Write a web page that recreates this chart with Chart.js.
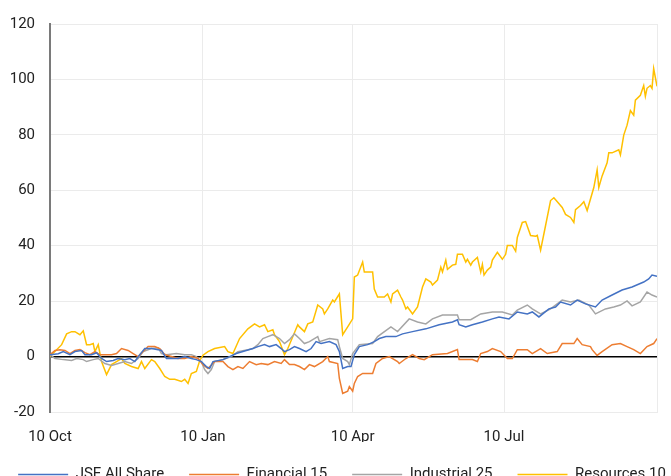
<!DOCTYPE html>
<html>
<head>
<meta charset="utf-8">
<script src="https://cdn.jsdelivr.net/npm/chart.js@4.4.1/dist/chart.umd.min.js"></script>
<style>
    html, body { margin: 0; padding: 0; background: #fff; overflow: hidden; width: 671px; height: 476px; }
    canvas { display: block; margin-left: -8px; }
</style>
</head>
<body>
<canvas id="returnsChart" width="700" height="492"></canvas>
<script>
// x values are days counted from 10 Oct
const tickDays = [0, 92, 182, 273];
const tickLabels = ['10 Oct', '10 Jan', '10 Apr', '10 Jul'];
const lastDay = 365;

const seriesNames = ['JSE All Share', 'Financial 15', 'Industrial 25', 'Resources 10'];
const seriesColors = ['#4472C4', '#ED7D31', '#A5A5A5', '#FFC000'];

const jseDays = [0, 5, 8, 12, 15, 19, 21, 25, 28, 31, 34, 38, 41, 45, 48, 51, 54, 57, 61, 65, 67, 70, 73, 77, 81, 85, 88, 91, 94, 96, 98, 104, 108, 112, 116, 122, 125, 129, 132, 136, 139, 141, 144, 147, 150, 154, 157, 160, 163, 168, 172, 174, 176, 179, 181, 183, 186, 191, 195, 198, 202, 208, 212, 218, 226, 234, 242, 245, 246, 250, 254, 260, 266, 270, 276, 281, 287, 290, 294, 300, 304, 307, 313, 317, 322, 328, 332, 338, 344, 350, 357, 360, 362, 365];
const jseVals = [0.7, 1.0, 1.8, 0.7, 1.8, 2.2, 0.7, 0.7, 1.4, -0.7, -1.8, -1.4, -0.7, -1.1, -0.7, -1.8, 0.7, 2.9, 2.9, 2.5, 2.2, -0.7, -0.7, -0.7, 0, -0.7, -1.1, -1.8, -3.6, -4.3, -1.8, -1.1, 0, 1.1, 1.8, 2.9, 3.6, 4.3, 3.6, 4.3, 2.9, 1.8, 2.5, 3.6, 2.9, 1.8, 2.9, 5.4, 4.7, 5.4, 4.3, 1.8, -4.3, -3.6, -3.6, 0.7, 3.6, 4.3, 5.4, 6.5, 7.2, 7.2, 8.2, 9.0, 10.0, 11.5, 12.5, 13.3, 11.5, 10.7, 11.5, 12.5, 13.6, 14.3, 13.6, 16.1, 15.4, 16.1, 14.3, 17.2, 17.9, 19.7, 18.6, 20.4, 19.0, 17.9, 20.4, 22.2, 24.0, 25.1, 26.9, 28.0, 29.4, 29.0];

const finDays = [0, 3, 6, 9, 12, 15, 18, 21, 24, 27, 30, 34, 37, 40, 43, 47, 50, 53, 56, 59, 63, 66, 69, 73, 77, 81, 85, 89, 92, 95, 99, 104, 107, 110, 113, 116, 120, 124, 127, 131, 135, 139, 141, 144, 147, 150, 153, 156, 159, 164, 167, 168, 173, 174, 176, 179, 180, 182, 183, 185, 188, 194, 196, 200, 204, 209, 210, 214, 218, 222, 225, 230, 239, 245, 246, 254, 257, 259, 263, 266, 271, 275, 278, 281, 287, 290, 295, 299, 305, 308, 315, 317, 320, 325, 326, 329, 332, 338, 343, 347, 351, 355, 359, 363, 365];
const finVals = [0.7, 2.2, 2.5, 2.2, 1.1, 2.2, 2.5, 1.4, 0.7, 1.8, 0.7, 0.7, 0.7, 1.1, 2.9, 2.2, 1.1, 0, 1.8, 3.6, 3.6, 2.9, 0.7, 0, -0.7, -0.7, 0, -0.7, -2.9, -4.3, -1.8, -1.8, -3.6, -4.7, -3.6, -4.3, -1.8, -2.9, -2.5, -2.9, -1.8, -2.5, -1.1, -2.9, -2.9, -3.6, -4.7, -2.9, -3.6, -1.8, 0, -1.8, -2.5, -7.9, -13.3, -12.5, -10.8, -12.5, -9.7, -7.2, -6.1, -6.1, -2.5, -0.7, 0, -1.8, -2.5, -0.7, 0.7, -0.7, -1.1, 0.7, 1.1, 2.5, -1.1, -1.1, -1.8, 1.1, 1.8, 2.9, 1.8, -0.7, -0.7, 2.5, 2.5, 1.1, 2.9, 1.1, 1.8, 4.7, 4.7, 6.5, 4.3, 3.6, 2.5, 0.4, 1.8, 4.3, 4.7, 3.6, 2.5, 1.1, 3.6, 4.7, 6.5];

const indDays = [0, 3, 8, 13, 16, 20, 22, 26, 29, 33, 37, 41, 45, 49, 53, 56, 61, 65, 67, 70, 76, 81, 85, 88, 91, 93, 95, 97, 99, 104, 109, 113, 119, 122, 125, 128, 131, 134, 138, 141, 144, 147, 150, 153, 156, 161, 162, 168, 173, 174, 176, 179, 180, 182, 186, 194, 197, 205, 209, 216, 221, 226, 230, 236, 245, 246, 253, 259, 266, 272, 278, 281, 287, 290, 295, 301, 308, 313, 318, 324, 328, 334, 339, 343, 347, 350, 355, 359, 362, 365];
const indVals = [0.7, -0.7, -1.1, -1.4, -0.7, -1.1, -1.8, -1.1, -0.7, -2.5, -3.2, -2.5, -1.8, -2.5, -0.7, 1.8, 2.9, 3.2, 1.1, 0.7, 1.1, 0.7, 0.7, 0, -1.8, -4.7, -6.1, -4.7, -1.8, -1.1, 0, 1.8, 2.5, 2.9, 4.3, 6.5, 7.2, 7.9, 6.5, 4.7, 6.1, 8.2, 6.5, 4.7, 5.4, 7.2, 5.4, 6.5, 6.1, 3.6, -0.7, -1.8, -2.9, 1.1, 4.3, 4.7, 7.2, 10.7, 9.0, 13.6, 12.5, 11.8, 13.6, 15.0, 15.0, 13.3, 13.3, 15.4, 16.1, 16.1, 15.0, 16.8, 18.6, 17.2, 15.4, 17.2, 20.4, 19.7, 20.4, 18.6, 15.4, 17.2, 17.9, 18.6, 20.1, 18.3, 19.7, 23.3, 22.2, 21.5];

const resDays = [0, 7, 10, 13, 15, 18, 20, 22, 24, 26, 27, 29, 31, 34, 37, 40, 43, 45, 49, 53, 55, 57, 61, 63, 66, 69, 72, 75, 79, 81, 83, 85, 88, 90, 92, 95, 99, 105, 107, 110, 114, 119, 123, 126, 129, 131, 134, 135, 138, 141, 143, 149, 150, 153, 155, 158, 161, 164, 165, 167, 170, 171, 174, 176, 179, 182, 183, 185, 188, 189, 194, 195, 197, 201, 203, 205, 206, 209, 211, 212, 214, 215, 218, 221, 224, 226, 229, 230, 233, 235, 236, 238, 239, 242, 244, 245, 248, 250, 251, 253, 254, 257, 259, 260, 261, 263, 265, 266, 269, 272, 274, 275, 278, 280, 281, 284, 286, 289, 292, 293, 295, 298, 301, 303, 308, 310, 313, 315, 316, 319, 321, 323, 327, 329, 330, 332, 335, 336, 338, 342, 343, 345, 347, 349, 351, 352, 355, 357, 358, 359, 361, 362, 363, 365];
const resVals = [0, 4.3, 8.2, 9.0, 9.0, 7.9, 9.3, 4.3, 4.3, 4.7, 1.8, 4.3, -1.8, -6.5, -2.9, -1.8, -0.7, -2.5, -3.6, -4.3, -1.8, -4.3, -1.1, -1.8, -4.3, -7.2, -8.2, -8.2, -9.0, -8.2, -9.7, -6.1, -5.4, -1.5, 0.5, 1.8, 2.9, 3.6, 1.8, 1.1, 6.5, 10.0, 11.8, 10.7, 11.5, 9.0, 9.7, 7.9, 5.4, 0.7, 2.9, 11.5, 10.7, 9.0, 11.8, 12.5, 18.6, 17.2, 15.4, 17.2, 20.4, 19.7, 22.6, 7.9, 10.7, 13.6, 28.7, 29.4, 34.1, 30.5, 30.5, 24.4, 21.5, 21.5, 22.6, 19.7, 22.6, 24.0, 21.5, 20.4, 17.2, 17.9, 15.4, 17.9, 25.1, 28.0, 26.9, 25.8, 27.6, 32.3, 30.5, 34.8, 31.5, 33.0, 33.3, 36.9, 36.9, 34.1, 35.1, 33.0, 34.1, 35.8, 30.5, 33.3, 29.4, 31.2, 32.3, 34.8, 37.6, 35.1, 36.9, 40.1, 40.1, 38.0, 43.0, 48.4, 48.7, 43.7, 43.4, 43.7, 38.4, 47.3, 56.3, 57.3, 53.8, 51.3, 50.2, 48.4, 53.0, 54.5, 55.9, 52.7, 61.0, 67.4, 61.0, 65.2, 69.9, 73.5, 73.5, 74.6, 72.8, 79.9, 83.5, 88.8, 87.1, 92.5, 94.3, 97.8, 93.9, 96.8, 97.8, 96.8, 103.9, 97.5];

const yTicks = [-20, 0, 20, 40, 60, 80, 100, 120];

function toPoints(days, vals) {
    return days.map((d, i) => ({ x: d, y: vals[i] }));
}

const allDays = [jseDays, finDays, indDays, resDays];
const allVals = [jseVals, finVals, indVals, resVals];

let _datasets = new Array();
for (let i = 0; i < seriesNames.length; i++) {
    _datasets.push({
        label: seriesNames[i],
        data: toPoints(allDays[i], allVals[i]),
        borderColor: seriesColors[i],
        backgroundColor: seriesColors[i],
        borderWidth: 1.5,
        pointRadius: 0,
        tension: 0
    });
}

Chart.defaults.font.family = 'Roboto';
Chart.defaults.font.size = 15;
Chart.defaults.color = '#222';

new Chart('returnsChart', {
    type: 'line',
    data: { datasets: _datasets },
    options: {
        responsive: false,
        animation: false,
        layout: { padding: { top: 20, right: 0, left: 0, bottom: 0 } },
        scales: {
            x: {
                type: 'linear',
                min: 0,
                max: lastDay,
                afterBuildTicks: (axis) => {
                    axis.ticks = tickDays.concat([lastDay]).map(v => ({ value: v }));
                },
                afterFit: (scale) => { scale.height = 30; },
                ticks: {
                    padding: 16,
                    maxRotation: 0,
                    autoSkip: false,
                    callback: (value) => {
                        const idx = tickDays.indexOf(value);
                        return idx >= 0 ? tickLabels[idx] : '';
                    }
                },
                grid: { color: '#ebebeb', drawTicks: false },
                border: { color: '#ebebeb', width: 1 }
            },
            y: {
                min: yTicks[0],
                max: yTicks[yTicks.length - 1],
                afterBuildTicks: (axis) => {
                    axis.ticks = yTicks.map(v => ({ value: v }));
                },
                afterFit: (scale) => { scale.width = 58; },
                ticks: { padding: 15 },
                grid: {
                    drawTicks: false,
                    color: (c) => c.tick && c.tick.value === 0 ? '#000' : '#ebebeb',
                    lineWidth: (c) => c.tick && c.tick.value === 0 ? 1.5 : 1
                },
                border: { color: '#7a7a7a', width: 2 }
            },
            // empty right axis, only reserves the margin right of the plot
            yRight: {
                type: 'linear',
                position: 'right',
                afterFit: (scale) => { scale.width = 35; },
                ticks: { display: false },
                grid: { display: false },
                border: { display: false }
            }
        },
        plugins: {
            legend: {
                position: 'bottom',
                labels: {
                    usePointStyle: true,
                    pointStyle: 'line',
                    pointStyleWidth: 50,
                    padding: 25
                }
            },
            tooltip: { enabled: false }
        }
    }
});
</script>
</body>
</html>
